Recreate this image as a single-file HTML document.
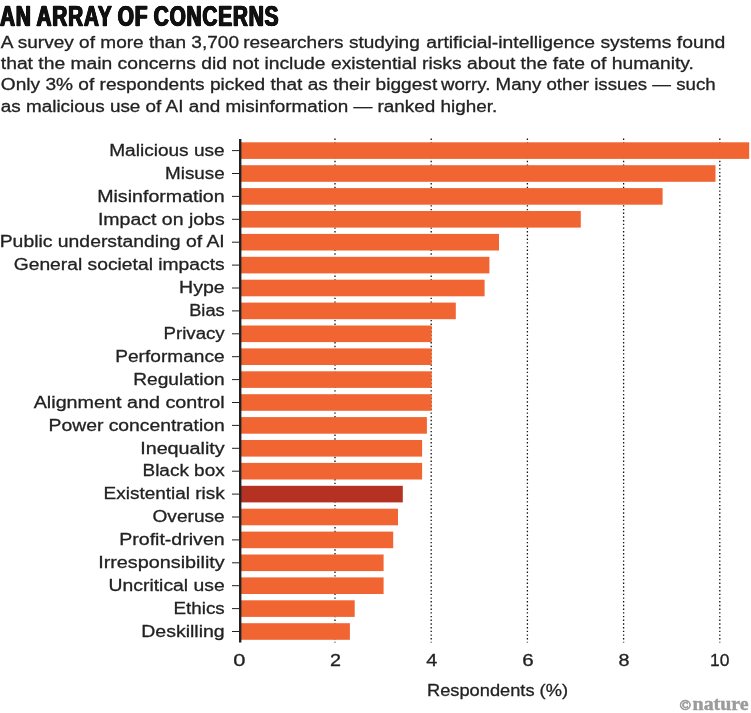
<!DOCTYPE html>
<html lang="en"><head><meta charset="utf-8"><title>An array of concerns</title>
<style>
html,body{margin:0;padding:0;background:#fff;}
body{width:751px;height:713px;overflow:hidden;position:relative;}
svg{display:block;}
text{font-family:"Liberation Sans",sans-serif;fill:#222222;}
.t{font-size:17.3px;stroke:#222222;stroke-width:0.3px;}
.title{position:absolute;left:0.3px;top:0;margin:0;white-space:nowrap;font-family:"Liberation Sans",sans-serif;font-weight:bold;font-size:29.7px;line-height:32px;color:#111;transform-origin:0 0;transform:scaleX(0.702);letter-spacing:1.1px;word-spacing:-1.4px;text-shadow:1px 0 0 #111,-1px 0 0 #111,0.5px 0 0 #111,-0.5px 0 0 #111;-webkit-text-stroke:0.3px #111;}
.nat{font-family:"Liberation Serif",serif;font-weight:bold;font-size:19.5px;fill:#9c9c9c;stroke:#9c9c9c;stroke-width:0.45px;}
</style></head><body>
<h1 class="title">AN ARRAY OF CONCERNS</h1>
<svg width="751" height="713" viewBox="0 0 751 713">
<rect width="751" height="713" fill="#ffffff"/>
<text class="t" y="47.6"><tspan x="0.8" textLength="238.2" lengthAdjust="spacingAndGlyphs">A survey of more than 3,700</tspan> <tspan x="243.2" textLength="176.6" lengthAdjust="spacingAndGlyphs">researchers studying</tspan> <tspan x="426.2" textLength="299.0" lengthAdjust="spacingAndGlyphs">artificial-intelligence systems found</tspan></text>
<text class="t" y="69.0"><tspan x="0.8" textLength="693.1" lengthAdjust="spacingAndGlyphs">that the main concerns did not include existential risks about the fate of humanity.</tspan></text>
<text class="t" y="90.4"><tspan x="0.8" textLength="436.4" lengthAdjust="spacingAndGlyphs">Only 3% of respondents picked that as their biggest</tspan> <tspan x="441.0" textLength="274.6" lengthAdjust="spacingAndGlyphs">worry. Many other issues — such</tspan></text>
<text class="t" y="111.8"><tspan x="0.8" textLength="496.4" lengthAdjust="spacingAndGlyphs">as malicious use of AI and misinformation — ranked higher.</tspan></text>
<line x1="335.0" y1="138.6" x2="335.0" y2="642.6" stroke="#111" stroke-width="1.3" stroke-dasharray="1.4 2.3"/>
<line x1="431.2" y1="138.6" x2="431.2" y2="642.6" stroke="#111" stroke-width="1.3" stroke-dasharray="1.4 2.3"/>
<line x1="527.4" y1="138.6" x2="527.4" y2="642.6" stroke="#111" stroke-width="1.3" stroke-dasharray="1.4 2.3"/>
<line x1="623.6" y1="138.6" x2="623.6" y2="642.6" stroke="#111" stroke-width="1.3" stroke-dasharray="1.4 2.3"/>
<line x1="719.8" y1="138.6" x2="719.8" y2="642.6" stroke="#111" stroke-width="1.3" stroke-dasharray="1.4 2.3"/>
<rect x="239.3" y="142.3" width="509.9" height="16.6" fill="#f06531"/>
<line x1="232" y1="150.6" x2="240" y2="150.6" stroke="#222" stroke-width="1"/>
<text class="t" x="109.2" y="155.8" textLength="115.5" lengthAdjust="spacingAndGlyphs" text-anchor="start">Malicious use</text>
<rect x="239.3" y="165.2" width="476.2" height="16.6" fill="#f06531"/>
<line x1="232" y1="173.5" x2="240" y2="173.5" stroke="#222" stroke-width="1"/>
<text class="t" x="165.1" y="178.7" textLength="59.6" lengthAdjust="spacingAndGlyphs" text-anchor="start">Misuse</text>
<rect x="239.3" y="188.1" width="423.3" height="16.6" fill="#f06531"/>
<line x1="232" y1="196.4" x2="240" y2="196.4" stroke="#222" stroke-width="1"/>
<text class="t" x="97.2" y="201.6" textLength="127.5" lengthAdjust="spacingAndGlyphs" text-anchor="start">Misinformation</text>
<rect x="239.3" y="211.0" width="341.5" height="16.6" fill="#f06531"/>
<line x1="232" y1="219.3" x2="240" y2="219.3" stroke="#222" stroke-width="1"/>
<text class="t" x="97.9" y="224.5" textLength="126.8" lengthAdjust="spacingAndGlyphs" text-anchor="start">Impact on jobs</text>
<rect x="239.3" y="233.9" width="259.7" height="16.6" fill="#f06531"/>
<line x1="232" y1="242.2" x2="240" y2="242.2" stroke="#222" stroke-width="1"/>
<text class="t" x="-0.3" y="247.4" textLength="225.0" lengthAdjust="spacingAndGlyphs" text-anchor="start">Public understanding of AI</text>
<rect x="239.3" y="256.8" width="250.1" height="16.6" fill="#f06531"/>
<line x1="232" y1="265.1" x2="240" y2="265.1" stroke="#222" stroke-width="1"/>
<text class="t" x="13.7" y="270.3" textLength="211.0" lengthAdjust="spacingAndGlyphs" text-anchor="start">General societal impacts</text>
<rect x="239.3" y="279.7" width="245.3" height="16.6" fill="#f06531"/>
<line x1="232" y1="288.0" x2="240" y2="288.0" stroke="#222" stroke-width="1"/>
<text class="t" x="179.1" y="293.2" textLength="45.6" lengthAdjust="spacingAndGlyphs" text-anchor="start">Hype</text>
<rect x="239.3" y="302.6" width="216.5" height="16.6" fill="#f06531"/>
<line x1="232" y1="310.9" x2="240" y2="310.9" stroke="#222" stroke-width="1"/>
<text class="t" x="189.2" y="316.1" textLength="35.5" lengthAdjust="spacingAndGlyphs" text-anchor="start">Bias</text>
<rect x="239.3" y="325.5" width="192.4" height="16.6" fill="#f06531"/>
<line x1="232" y1="333.8" x2="240" y2="333.8" stroke="#222" stroke-width="1"/>
<text class="t" x="163.5" y="339.0" textLength="61.2" lengthAdjust="spacingAndGlyphs" text-anchor="start">Privacy</text>
<rect x="239.3" y="348.4" width="192.4" height="16.6" fill="#f06531"/>
<line x1="232" y1="356.7" x2="240" y2="356.7" stroke="#222" stroke-width="1"/>
<text class="t" x="115.2" y="361.9" textLength="109.5" lengthAdjust="spacingAndGlyphs" text-anchor="start">Performance</text>
<rect x="239.3" y="371.3" width="192.4" height="16.6" fill="#f06531"/>
<line x1="232" y1="379.6" x2="240" y2="379.6" stroke="#222" stroke-width="1"/>
<text class="t" x="133.2" y="384.8" textLength="91.5" lengthAdjust="spacingAndGlyphs" text-anchor="start">Regulation</text>
<rect x="239.3" y="394.2" width="192.4" height="16.6" fill="#f06531"/>
<line x1="232" y1="402.5" x2="240" y2="402.5" stroke="#222" stroke-width="1"/>
<text class="t" x="33.7" y="407.7" textLength="191.0" lengthAdjust="spacingAndGlyphs" text-anchor="start">Alignment and control</text>
<rect x="239.3" y="417.1" width="187.6" height="16.6" fill="#f06531"/>
<line x1="232" y1="425.4" x2="240" y2="425.4" stroke="#222" stroke-width="1"/>
<text class="t" x="48.6" y="430.6" textLength="176.1" lengthAdjust="spacingAndGlyphs" text-anchor="start">Power concentration</text>
<rect x="239.3" y="440.0" width="182.8" height="16.6" fill="#f06531"/>
<line x1="232" y1="448.3" x2="240" y2="448.3" stroke="#222" stroke-width="1"/>
<text class="t" x="140.2" y="453.5" textLength="84.5" lengthAdjust="spacingAndGlyphs" text-anchor="start">Inequality</text>
<rect x="239.3" y="462.9" width="182.8" height="16.6" fill="#f06531"/>
<line x1="232" y1="471.2" x2="240" y2="471.2" stroke="#222" stroke-width="1"/>
<text class="t" x="142.5" y="476.4" textLength="82.2" lengthAdjust="spacingAndGlyphs" text-anchor="start">Black box</text>
<rect x="239.3" y="485.8" width="163.5" height="16.6" fill="#b53222"/>
<line x1="232" y1="494.1" x2="240" y2="494.1" stroke="#222" stroke-width="1"/>
<text class="t" x="103.6" y="499.3" textLength="121.1" lengthAdjust="spacingAndGlyphs" text-anchor="start">Existential risk</text>
<rect x="239.3" y="508.7" width="158.7" height="16.6" fill="#f06531"/>
<line x1="232" y1="517.0" x2="240" y2="517.0" stroke="#222" stroke-width="1"/>
<text class="t" x="152.5" y="522.2" textLength="72.2" lengthAdjust="spacingAndGlyphs" text-anchor="start">Overuse</text>
<rect x="239.3" y="531.6" width="153.9" height="16.6" fill="#f06531"/>
<line x1="232" y1="539.9" x2="240" y2="539.9" stroke="#222" stroke-width="1"/>
<text class="t" x="119.2" y="545.1" textLength="105.5" lengthAdjust="spacingAndGlyphs" text-anchor="start">Profit-driven</text>
<rect x="239.3" y="554.5" width="144.3" height="16.6" fill="#f06531"/>
<line x1="232" y1="562.8" x2="240" y2="562.8" stroke="#222" stroke-width="1"/>
<text class="t" x="98.2" y="568.0" textLength="126.5" lengthAdjust="spacingAndGlyphs" text-anchor="start">Irresponsibility</text>
<rect x="239.3" y="577.4" width="144.3" height="16.6" fill="#f06531"/>
<line x1="232" y1="585.7" x2="240" y2="585.7" stroke="#222" stroke-width="1"/>
<text class="t" x="108.6" y="590.9" textLength="116.1" lengthAdjust="spacingAndGlyphs" text-anchor="start">Uncritical use</text>
<rect x="239.3" y="600.3" width="115.4" height="16.6" fill="#f06531"/>
<line x1="232" y1="608.6" x2="240" y2="608.6" stroke="#222" stroke-width="1"/>
<text class="t" x="173.5" y="613.8" textLength="51.2" lengthAdjust="spacingAndGlyphs" text-anchor="start">Ethics</text>
<rect x="239.3" y="623.2" width="110.6" height="16.6" fill="#f06531"/>
<line x1="232" y1="631.5" x2="240" y2="631.5" stroke="#222" stroke-width="1"/>
<text class="t" x="141.2" y="636.7" textLength="83.5" lengthAdjust="spacingAndGlyphs" text-anchor="start">Deskilling</text>
<line x1="240.2" y1="139" x2="240.2" y2="642.6" stroke="#222" stroke-width="2.4"/>
<text class="t" x="233.3" y="666.4" textLength="12.2" lengthAdjust="spacingAndGlyphs" text-anchor="start">0</text>
<text class="t" x="329.9" y="666.4" textLength="11.0" lengthAdjust="spacingAndGlyphs" text-anchor="start">2</text>
<text class="t" x="426.3" y="666.4" textLength="11.0" lengthAdjust="spacingAndGlyphs" text-anchor="start">4</text>
<text class="t" x="522.2" y="666.4" textLength="11.4" lengthAdjust="spacingAndGlyphs" text-anchor="start">6</text>
<text class="t" x="618.4" y="666.4" textLength="11.0" lengthAdjust="spacingAndGlyphs" text-anchor="start">8</text>
<text class="t" x="710.0" y="666.4" textLength="19.4" lengthAdjust="spacingAndGlyphs" text-anchor="start">10</text>
<text class="t" x="427.0" y="695.8" textLength="141.0" lengthAdjust="spacingAndGlyphs" text-anchor="start">Respondents (%)</text>
<text class="nat" y="709.4"><tspan x="679.6" y="709.9" font-size="15.2px" stroke-width="0.7">©</tspan><tspan x="692.6" y="709.7" textLength="56" lengthAdjust="spacingAndGlyphs">nature</tspan></text>
</svg></body></html>
